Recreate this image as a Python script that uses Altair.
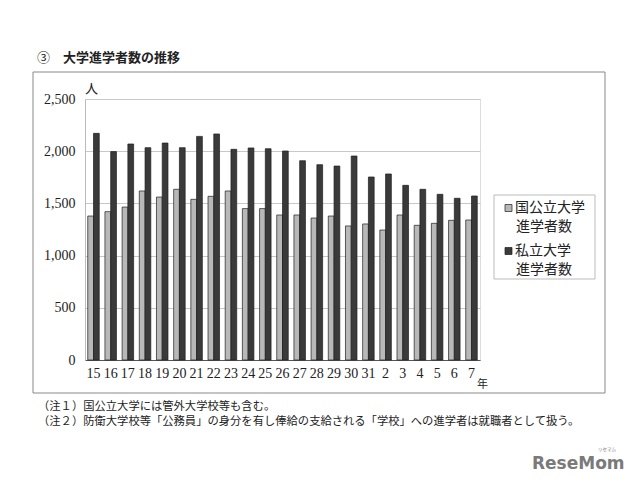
import altair as alt
import pandas as pd

years = ["15", "16", "17", "18", "19", "20", "21", "22", "23", "24", "25", "26",
         "27", "28", "29", "30", "31", "2", "3", "4", "5", "6", "7"]
public = [1379, 1421, 1465, 1619, 1561, 1635, 1539, 1568, 1619, 1450, 1450, 1389,
          1389, 1360, 1379, 1284, 1303, 1245, 1389, 1290, 1309, 1338, 1341]
private = [2171, 1996, 2069, 2034, 2078, 2034, 2142, 2165, 2018, 2031, 2024, 2002,
           1909, 1871, 1858, 1954, 1753, 1782, 1673, 1635, 1587, 1549, 1571]
series_names = ["国公立大学進学者数", "私立大学進学者数"]
y_ticks = [0, 500, 1000, 1500, 2000, 2500]
title_text = "大学進学者数の推移"
notes = ["（注１）国公立大学には管外大学校等も含む。",
         "（注２）防衛大学校等「公務員」の身分を有し俸給の支給される「学校」への進学者は就職者として扱う。"]

rows = []
for i, yr in enumerate(years):
    rows.append({"year": yr, "series": series_names[0], "value": public[i]})
    rows.append({"year": yr, "series": series_names[1], "value": private[i]})
df = pd.DataFrame(rows)

JP = "Noto Sans CJK JP"
SERIF = "Liberation Serif"
one = pd.DataFrame({"a": [0]})

frame = alt.Chart(one).mark_rect(fill="white", fillOpacity=0, stroke="#888888", strokeWidth=1).encode(
    x=alt.value(-52), x2=alt.value(520), y=alt.value(-27), y2=alt.value(294))

bars = alt.Chart(df).mark_bar(stroke="#1e1e1e", strokeWidth=0.7).encode(
    x=alt.X("year:N", sort=years,
            scale=alt.Scale(paddingInner=0.33, paddingOuter=0.16),
            axis=alt.Axis(title=None, labelAngle=0, labelFont=SERIF, labelFontSize=14,
                          labelColor="#222222", labelPadding=6, ticks=False,
                          domainColor="#555555", grid=False)),
    xOffset=alt.XOffset("series:N", sort=series_names),
    y=alt.Y("value:Q", scale=alt.Scale(domain=[0, 2500]),
            axis=alt.Axis(title=None, values=y_ticks, format=",d", labelFont=SERIF,
                          labelFontSize=14, labelColor="#222222", labelPadding=10,
                          ticks=False, domainColor="#bbbbbb", gridColor="#c8c8c8")),
    color=alt.Color("series:N", sort=series_names,
                    scale=alt.Scale(domain=series_names, range=["#b8b8b8", "#3a3a3a"]),
                    legend=None),
)

def txt(x, y, s, size=13, font=JP, weight="normal", align="left", color="#222222"):
    return alt.Chart(one).mark_text(align=align, baseline="middle", font=font, fontSize=size,
                                    fontWeight=weight, color=color).encode(
        x=alt.value(x), y=alt.value(y), text=alt.value(s))

layers = [frame, bars,
          txt(-48, -41, "③", 13),
          txt(-22, -41, title_text, 13, weight="bold"),
          txt(0, -10, "人", 13),
          txt(392, 286, "年", 11),
          txt(-47, 308, notes[0], 11.3),
          txt(-47, 323, notes[1], 11.3),
          ]

# legend box
legend_box = alt.Chart(one).mark_rect(fill="white", stroke="#bbbbbb", strokeWidth=1).encode(
    x=alt.value(409), x2=alt.value(510), y=alt.value(96), y2=alt.value(180))
sq1 = alt.Chart(one).mark_rect(fill="#b8b8b8", stroke="#1e1e1e", strokeWidth=0.7).encode(
    x=alt.value(420), x2=alt.value(427), y=alt.value(105.5), y2=alt.value(112.5))
sq2 = alt.Chart(one).mark_rect(fill="#3a3a3a", stroke="#1e1e1e", strokeWidth=0.7).encode(
    x=alt.value(420), x2=alt.value(427), y=alt.value(148.5), y2=alt.value(155.5))
layers += [legend_box, sq1, sq2,
           txt(430, 109, "国公立大学", 14),
           txt(431, 128, "進学者数", 14),
           txt(430, 152, "私立大学", 14),
           txt(431, 171, "進学者数", 14),
           txt(447, 365, "ReseMom", 17, font="DejaVu Sans", weight="bold", color="#7a7a7a"),
           txt(522, 351, "リセマム", 4.5, align="center", color="#7a7a7a"),
           ]

chart = alt.layer(*layers).properties(
    width=395, height=261,
    autosize=alt.AutoSizeParams(type="none"),
    padding={"left": 77, "top": 91, "right": 152, "bottom": 117},
).configure_view(stroke="#bbbbbb", strokeWidth=1).configure(background="white")

chart.save("out.html", embed_options={"renderer": "svg", "actions": False})
